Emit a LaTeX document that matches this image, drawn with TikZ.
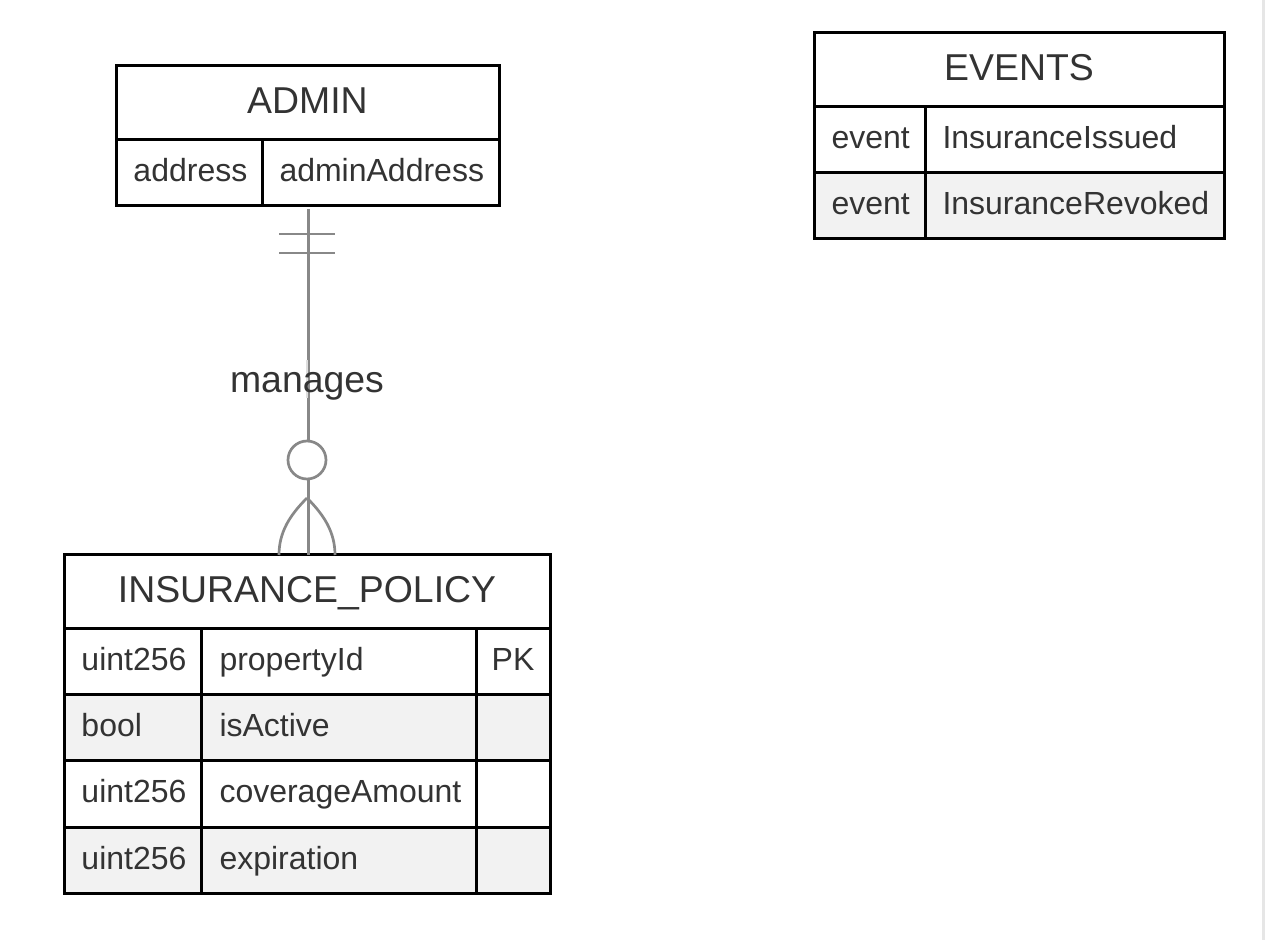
\documentclass[tikz,border=0pt]{standalone}
\usepackage{fontspec}
\setmainfont{Liberation Sans}
\definecolor{erText}{HTML}{333333}
\definecolor{erLine}{HTML}{888888}
\definecolor{erLight}{HTML}{DDDDDD}
\definecolor{erShade}{HTML}{F2F2F2}
\definecolor{erStrip}{HTML}{E6E6E6}
\tikzset{every picture/.style={line width=1.5pt}}
\tikzset{
  frame/.style={draw=none, inner sep=0pt, anchor=north west},
  cellbox/.style={draw=black, fill=white, line width=1.5pt},
  shadebox/.style={cellbox, fill=erShade},
  rowtext/.style={anchor=west, inner sep=0pt, text=erText, text height=11.5pt, text depth=3pt, font=\fontsize{16}{19}\selectfont},
  pktext/.style={rowtext, anchor=center},
  titletext/.style={anchor=center, inner sep=0pt, text=erText, text height=13.5pt, text depth=3pt, font=\fontsize{18.7}{22}\selectfont},
  erline/.style={draw=erLine, line width=1.35pt},
  relabel/.style={anchor=base, inner sep=0pt, text=erText, font=\fontsize{18.7}{22}\selectfont}
}

\begin{document}
\begin{tikzpicture}[x=0.5pt,y=0.5pt,yscale=-1,xscale=1]
	\useasboundingbox (0,0) rectangle (1266,940);
	\fill[white] (0,0) rectangle (1266,940);
	\fill[erStrip] (1262,0) rectangle (1265,940);

	%Table ADMIN
	\node[frame, minimum width=192pt, minimum height=70pt] (admin) at (115,66) {};
	\draw[cellbox] (116,66) rectangle (499,140);
	\draw[cellbox] (116,140) rectangle (262,206);
	\draw[cellbox] (262,140) rectangle (499,206);
	\node[titletext] (adminTitle) at (307.5,103) {ADMIN};
	\node[rowtext] (adminType) at (132,173) {address};
	\node[rowtext] (adminName) at (278,173) {adminAddress};

	%Table EVENTS
	\node[frame, minimum width=205pt, minimum height=103pt] (events) at (814,33) {};
	\draw[cellbox] (814,33) rectangle (1224,107);
	\draw[cellbox] (814,107) rectangle (925,173);
	\draw[cellbox] (925,107) rectangle (1224,173);
	\draw[shadebox] (814,173) rectangle (925,239);
	\draw[shadebox] (925,173) rectangle (1224,239);
	\node[titletext] (eventsTitle) at (1019,70) {EVENTS};
	\node[rowtext] (eventTypeA) at (830,140) {event};
	\node[rowtext] (eventNameA) at (941,140) {InsuranceIssued};
	\node[rowtext] (eventTypeB) at (830,206) {event};
	\node[rowtext] (eventNameB) at (941,206) {InsuranceRevoked};

	%Table INSURANCE_POLICY
	\node[frame, minimum width=243pt, minimum height=169.5pt] (policy) at (64,555) {};
	\draw[cellbox] (64,555) rectangle (550,629);
	\draw[cellbox] (64,629) rectangle (201,695);
	\draw[cellbox] (201,629) rectangle (476,695);
	\draw[cellbox] (476,629) rectangle (550,695);
	\draw[shadebox] (64,695) rectangle (201,761);
	\draw[shadebox] (201,695) rectangle (476,761);
	\draw[shadebox] (476,695) rectangle (550,761);
	\draw[cellbox] (64,761) rectangle (201,828);
	\draw[cellbox] (201,761) rectangle (476,828);
	\draw[cellbox] (476,761) rectangle (550,828);
	\draw[shadebox] (64,828) rectangle (201,894);
	\draw[shadebox] (201,828) rectangle (476,894);
	\draw[shadebox] (476,828) rectangle (550,894);
	\node[titletext] (policyTitle) at (307,592) {INSURANCE\_POLICY};
	\node[rowtext] (propType) at (80,662) {uint256};
	\node[rowtext] (propName) at (218,662) {propertyId};
	\node[pktext] (propKey) at (513,662) {PK};
	\node[rowtext] (activeType) at (80,728) {bool};
	\node[rowtext] (activeName) at (218,728) {isActive};
	\node[rowtext] (coverType) at (80,794.5) {uint256};
	\node[rowtext] (coverName) at (218,794.5) {coverageAmount};
	\node[rowtext] (expType) at (80,861) {uint256};
	\node[rowtext] (expName) at (218,861) {expiration};

	%Relation ADMIN -- INSURANCE_POLICY
	\draw[erline] (admin.south) -- (policy.north);
	% only one
	\draw[erline] (279,234) -- (335,234);
	\draw[erline] (279,253) -- (335,253);
	% zero or many
	\draw[erline, fill=white] (307,460) circle [radius=9.5pt];
	\draw[erline] (307,498) .. controls (290,515) and (279,532) .. (279,555);
	\draw[erline] (307,498) .. controls (324,515) and (335,532) .. (335,555);

	% Text Node
	\draw[erline, draw=erLight] (307,360) -- (307,398);
	\node[relabel] (manages) at (307,393) {manages};

\end{tikzpicture}
\end{document}
